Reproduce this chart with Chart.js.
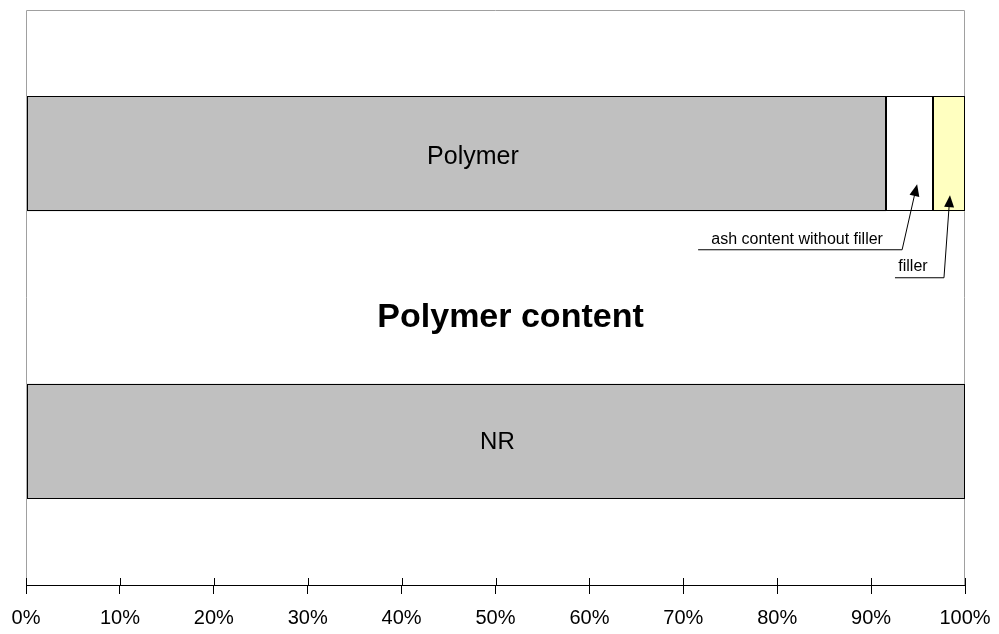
<!DOCTYPE html>
<html>
<head>
<meta charset="utf-8">
<script src="https://cdn.jsdelivr.net/npm/chart.js@4/dist/chart.umd.min.js"></script>
<style>
  html, body { margin: 0; padding: 0; background: #fff; }
  #wrap { width: 999px; height: 634px; position: relative; }
</style>
</head>
<body>
<div id="wrap"><canvas id="chart" width="999" height="634"></canvas></div>
<script>
// Data
const categories = ['Sample', 'NR'];
const polymer = [91.6, null];
const ashNoFiller = [5.0, null];
const filler = [3.4, null];
const nr = [null, 100];
const tickStep = 10;

const FONT = '"Liberation Sans", Arial, sans-serif';

function arrow(ctx, fx, fy, tx, ty) {
    const ang = Math.atan2(ty - fy, tx - fx);
    const len = 12, half = 5;
    ctx.beginPath();
    ctx.moveTo(tx, ty);
    ctx.lineTo(tx - len * Math.cos(ang) + half * Math.sin(ang), ty - len * Math.sin(ang) - half * Math.cos(ang));
    ctx.lineTo(tx - len * Math.cos(ang) - half * Math.sin(ang), ty - len * Math.sin(ang) + half * Math.cos(ang));
    ctx.closePath();
    ctx.fill();
}

// frame, crisp bar outlines, crossing ticks, labels and callouts
const decorations = {
    id: 'decorations',
    beforeDatasetsDraw(chart) {
        const { ctx, chartArea: a } = chart;
        ctx.save();
        ctx.strokeStyle = '#a0a0a0';
        ctx.lineWidth = 1;
        ctx.beginPath();
        ctx.moveTo(a.left + 0.5, a.bottom);
        ctx.lineTo(a.left + 0.5, a.top + 0.5);
        ctx.lineTo(a.right - 0.5, a.top + 0.5);
        ctx.lineTo(a.right - 0.5, a.bottom);
        ctx.stroke();
        ctx.restore();
    },
    afterDatasetsDraw(chart) {
        const { ctx } = chart;
        ctx.save();
        ctx.strokeStyle = '#000';
        ctx.lineWidth = 1;
        chart.data.datasets.forEach((ds, i) => {
            chart.getDatasetMeta(i).data.forEach((bar, j) => {
                if (ds.data[j] == null) return;
                const p = bar.getProps(['x', 'y', 'base', 'height'], true);
                const x0 = Math.round(Math.min(p.base, p.x)) + 0.5;
                const x1 = Math.round(Math.max(p.base, p.x)) - 0.5;
                const y0 = Math.round(p.y - p.height / 2) + 0.5;
                const y1 = Math.round(p.y + p.height / 2) - 0.5;
                ctx.strokeRect(x0, y0, x1 - x0, y1 - y0);
            });
        });
        ctx.restore();
    },
    afterDraw(chart) {
        const { ctx, chartArea: a, scales: { x, y } } = chart;
        ctx.save();
        // upper part of the crossing ticks
        ctx.strokeStyle = '#000';
        ctx.lineWidth = 1;
        for (let v = 0; v <= 100; v += tickStep) {
            const px = Math.round(x.getPixelForValue(v)) + 0.5;
            ctx.beginPath();
            ctx.moveTo(px, a.bottom);
            ctx.lineTo(px, a.bottom - 7);
            ctx.stroke();
        }

        // bar labels
        const meta0 = chart.getDatasetMeta(0).data[0];
        const meta3 = chart.getDatasetMeta(3).data[1];
        ctx.fillStyle = '#000';
        ctx.textAlign = 'center';
        ctx.textBaseline = 'middle';
        ctx.font = '25px ' + FONT;
        ctx.fillText('Polymer', x.getPixelForValue(47.6), meta0.y + 3);
        ctx.font = '24px ' + FONT;
        ctx.fillText('NR', x.getPixelForValue(50.2), meta3.y + 1);

        // title in the middle
        ctx.font = 'bold 34px ' + FONT;
        ctx.fillText('Polymer content', x.getPixelForValue(51.6), (a.top + a.bottom) / 2 + 20);

        // callouts
        const barBottom = meta0.y + meta0.height / 2;
        ctx.font = '16px ' + FONT;
        ctx.lineWidth = 1;

        const ashTipX = x.getPixelForValue(94.9);
        const ashTipY = barBottom - 27;
        const ashElbowX = ashTipX - 15, ashElbowY = barBottom + 38.5;
        ctx.beginPath();
        ctx.moveTo(ashTipX - 1.5, ashTipY + 6);
        ctx.lineTo(ashElbowX, ashElbowY);
        ctx.lineTo(ashElbowX - 204, ashElbowY);
        ctx.stroke();
        arrow(ctx, ashElbowX, ashElbowY, ashTipX, ashTipY);
        ctx.fillText('ash content without filler', ashElbowX - 105, ashElbowY - 10);

        const filTipX = x.getPixelForValue(98.4);
        const filTipY = barBottom - 16;
        const filElbowX = filTipX - 6, filElbowY = barBottom + 66.5;
        ctx.beginPath();
        ctx.moveTo(filTipX - 0.5, filTipY + 6);
        ctx.lineTo(filElbowX, filElbowY);
        ctx.lineTo(filElbowX - 49, filElbowY);
        ctx.stroke();
        arrow(ctx, filElbowX, filElbowY, filTipX, filTipY);
        ctx.fillText('filler', filElbowX - 31, filElbowY - 11);

        ctx.restore();
    }
};

const barStyle = {
    borderWidth: 0,
    categoryPercentage: 0.4,
    barPercentage: 1.0
};

new Chart(document.getElementById('chart').getContext('2d'), {
    type: 'bar',
    data: {
        labels: categories,
        datasets: [
            Object.assign({ label: 'Polymer', data: polymer, backgroundColor: '#c0c0c0' }, barStyle),
            Object.assign({ label: 'ash content without filler', data: ashNoFiller, backgroundColor: '#ffffff' }, barStyle),
            Object.assign({ label: 'filler', data: filler, backgroundColor: '#ffffc0' }, barStyle),
            Object.assign({ label: 'NR', data: nr, backgroundColor: '#c0c0c0' }, barStyle)
        ]
    },
    options: {
        indexAxis: 'y',
        responsive: false,
        animation: false,
        layout: { padding: { left: 26, right: 34, top: 10, bottom: 0 } },
        plugins: {
            legend: { display: false },
            tooltip: { enabled: false },
            title: { display: false }
        },
        scales: {
            x: {
                stacked: true,
                min: 0,
                max: 100,
                afterFit(scale) {
                    scale.height = 49;
                    scale.paddingLeft = 0;
                    scale.paddingRight = 0;
                },
                ticks: {
                    stepSize: tickStep,
                    padding: 12,
                    color: '#000',
                    font: { family: FONT, size: 20 },
                    maxRotation: 0,
                    callback: v => v + '%'
                },
                grid: {
                    drawOnChartArea: false,
                    drawTicks: true,
                    tickLength: 9,
                    color: '#000'
                },
                border: { display: true, color: '#000', width: 1 }
            },
            y: {
                stacked: true,
                display: false
            }
        }
    },
    plugins: [decorations]
});
</script>
</body>
</html>
